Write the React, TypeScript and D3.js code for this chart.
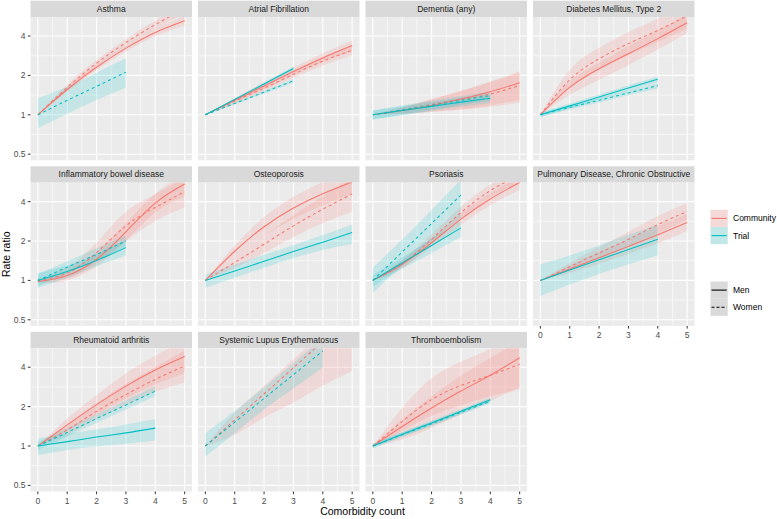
import React from "react";
import * as d3 from "d3";

type T = [number, number, number]; // [estimate, lower, upper] at comorbidity count 0..n

const panelNames = [
  "Asthma",
  "Atrial Fibrillation",
  "Dementia (any)",
  "Diabetes Mellitus, Type 2",
  "Inflammatory bowel disease",
  "Osteoporosis",
  "Psoriasis",
  "Pulmonary Disease, Chronic Obstructive",
  "Rheumatoid arthritis",
  "Systemic Lupus Erythematosus",
  "Thromboembolism",
];
const xTicks = [0, 1, 2, 3, 4, 5];
const xMinor = [0.5, 1.5, 2.5, 3.5, 4.5];
const yTicks = [0.5, 1, 2, 4];
const yTickLabels = ["0.5", "1", "2", "4"];
const yMinor = [0.7071, 1.4142, 2.8284];
const sourceNames = ["Community", "Trial"];
const sexNames = ["Men", "Women"];

// Asthma
const asthmaCM: T[] = [[1, 1, 1], [1.56, 1.5, 1.63], [2.31, 2.2, 2.43], [3.23, 3.05, 3.42], [4.26, 3.98, 4.56], [5.24, 4.82, 5.7]];
const asthmaCW: T[] = [[1, 1, 1], [1.62, 1.55, 1.7], [2.48, 2.35, 2.62], [3.56, 3.35, 3.78], [4.89, 4.55, 5.25], [6.45, 5.9, 7.0]];
const asthmaTW: T[] = [[1, 0.79, 1.34], [1.29, 1.02, 1.64], [1.65, 1.3, 2.1], [2.12, 1.62, 2.7]];
// Atrial fibrillation
const afCM: T[] = [[1, 1, 1], [1.29, 1.24, 1.34], [1.66, 1.57, 1.76], [2.14, 2.0, 2.3], [2.72, 2.52, 2.95], [3.38, 3.05, 3.7]];
const afCW: T[] = [[1, 1, 1], [1.27, 1.22, 1.32], [1.6, 1.52, 1.69], [2.04, 1.91, 2.18], [2.57, 2.38, 2.78], [3.12, 2.85, 3.42]];
const afTM: T[] = [[1, 1, 1], [1.31, 1.28, 1.34], [1.72, 1.67, 1.77], [2.26, 2.18, 2.34]];
const afTW: T[] = [[1, 1, 1], [1.22, 1.2, 1.24], [1.49, 1.45, 1.53], [1.82, 1.76, 1.88]];
// Dementia
const demCM: T[] = [[1, 1, 1], [1.08, 1.02, 1.13], [1.18, 1.05, 1.31], [1.32, 1.1, 1.52], [1.5, 1.18, 1.8], [1.76, 1.3, 2.15]];
const demCW: T[] = [[1, 1, 1], [1.09, 1.02, 1.14], [1.2, 1.06, 1.32], [1.31, 1.1, 1.52], [1.44, 1.15, 1.78], [1.68, 1.24, 2.1]];
const demTM: T[] = [[1, 0.92, 1.08], [1.08, 0.99, 1.16], [1.16, 1.07, 1.25], [1.25, 1.15, 1.35], [1.34, 1.23, 1.45]];
const demTW: T[] = [[1, 0.92, 1.08], [1.09, 1.0, 1.18], [1.18, 1.09, 1.28], [1.29, 1.19, 1.39], [1.4, 1.29, 1.51]];
// Diabetes
const diabCM: T[] = [[1, 1, 1], [1.62, 1.42, 1.8], [2.25, 1.85, 2.5], [2.93, 2.4, 3.35], [3.82, 3.15, 4.4], [5.06, 4.2, 5.85]];
const diabCW: T[] = [[1, 1, 1], [1.85, 1.6, 2.2], [2.68, 2.2, 3.25], [3.5, 2.85, 4.3], [4.42, 3.6, 5.45], [5.7, 4.55, 7.1]];
const diabTM: T[] = [[1, 0.96, 1.04], [1.17, 1.12, 1.22], [1.37, 1.31, 1.43], [1.6, 1.52, 1.68], [1.87, 1.78, 1.96]];
const diabTW: T[] = [[1, 0.96, 1.04], [1.14, 1.1, 1.18], [1.29, 1.24, 1.34], [1.47, 1.41, 1.53], [1.67, 1.59, 1.75]];
// Inflammatory bowel disease
const ibdCM: T[] = [[0.98, 0.95, 1.02], [1.09, 1.0, 1.18], [1.45, 1.28, 1.65], [2.35, 2.0, 2.75], [3.9, 3.3, 4.6], [5.45, 4.4, 6.6]];
const ibdCW: T[] = [[1, 0.97, 1.03], [1.14, 1.03, 1.26], [1.63, 1.35, 1.95], [2.61, 2.0, 3.35], [3.61, 2.85, 4.55], [4.77, 3.6, 6.2]];
const ibdTM: T[] = [[1, 0.88, 1.14], [1.17, 1.05, 1.3], [1.42, 1.28, 1.58], [1.78, 1.55, 2.05]];
const ibdTW: T[] = [[1, 0.9, 1.12], [1.26, 1.14, 1.4], [1.58, 1.42, 1.76], [2.0, 1.78, 2.2]];
// Osteoporosis
const osteoCM: T[] = [[1, 1, 1], [1.67, 1.5, 1.85], [2.57, 2.2, 3.05], [3.58, 2.95, 4.35], [4.6, 3.75, 5.65], [5.66, 4.6, 7.0]];
const osteoCW: T[] = [[1, 1, 1], [1.37, 1.25, 1.5], [1.89, 1.62, 2.2], [2.61, 2.15, 3.15], [3.5, 2.75, 4.4], [4.57, 3.35, 6.1]];
const osteoTM: T[] = [[1, 0.88, 1.11], [1.18, 1.05, 1.32], [1.4, 1.25, 1.57], [1.66, 1.48, 1.86], [1.96, 1.71, 2.22], [2.32, 1.9, 2.68]];
// Psoriasis
const psoCM: T[] = [[1, 1, 1], [1.33, 1.25, 1.42], [1.94, 1.8, 2.1], [2.94, 2.65, 3.25], [4.19, 3.75, 4.65], [5.6, 4.9, 6.3]];
const psoCW: T[] = [[1, 1, 1], [1.34, 1.25, 1.43], [2.06, 1.9, 2.25], [3.3, 2.95, 3.65], [4.85, 4.3, 5.4], [6.4, 5.6, 7.3]];
const psoTM: T[] = [[1, 0.9, 1.1], [1.36, 1.22, 1.5], [1.85, 1.62, 2.08], [2.52, 2.15, 2.9]];
const psoTW: T[] = [[1, 0.8, 1.25], [1.65, 1.3, 2.05], [2.72, 2.0, 3.45], [4.5, 3.0, 5.9]];
// COPD
const copdCM: T[] = [[1, 1, 1], [1.22, 1.14, 1.3], [1.49, 1.34, 1.65], [1.82, 1.6, 2.07], [2.23, 1.92, 2.6], [2.77, 2.38, 3.2]];
const copdCW: T[] = [[1, 1, 1], [1.27, 1.19, 1.36], [1.62, 1.46, 1.8], [2.06, 1.8, 2.35], [2.67, 2.3, 3.1], [3.36, 2.9, 3.9]];
const copdTM: T[] = [[1, 0.76, 1.33], [1.2, 0.93, 1.55], [1.44, 1.12, 1.86], [1.72, 1.33, 2.23], [2.06, 1.56, 2.69]];
// Rheumatoid arthritis
const raCM: T[] = [[1, 1, 1], [1.45, 1.3, 1.62], [2.07, 1.75, 2.45], [2.87, 2.3, 3.6], [3.81, 2.95, 4.9], [4.83, 3.6, 6.5]];
const raCW: T[] = [[1, 1, 1], [1.33, 1.22, 1.46], [1.84, 1.6, 2.12], [2.47, 2.05, 2.98], [3.23, 2.6, 4.0], [4.09, 3.05, 5.4]];
const raTM: T[] = [[1, 0.85, 1.14], [1.08, 0.93, 1.24], [1.17, 0.99, 1.34], [1.26, 1.04, 1.46], [1.37, 1.1, 1.6]];
const raTW: T[] = [[1, 0.93, 1.07], [1.27, 1.18, 1.37], [1.62, 1.5, 1.75], [2.06, 1.9, 2.24], [2.63, 2.4, 2.88]];
// Systemic lupus erythematosus
const sleCW: T[] = [[1, 1, 1], [1.58, 1.22, 1.8], [2.5, 1.65, 2.88], [3.96, 2.15, 4.6], [6.3, 2.9, 7.3], [9.9, 3.75, 11.5]];
const sleTW: T[] = [[1, 0.83, 1.25], [1.52, 1.25, 1.85], [2.31, 1.9, 2.8], [3.51, 2.75, 4.3], [5.33, 4.0, 6.8]];
// Thromboembolism
const thrCM: T[] = [[1, 1, 1], [1.41, 1.12, 1.6], [1.95, 1.37, 2.4], [2.63, 1.75, 3.45], [3.47, 2.2, 4.7], [4.72, 2.8, 6.4]];
const thrCW: T[] = [[1, 1, 1], [1.54, 1.3, 1.95], [2.26, 1.7, 3.3], [2.9, 2.05, 4.4], [3.47, 2.4, 5.5], [4.22, 2.7, 6.8]];
const thrTM: T[] = [[1, 0.96, 1.04], [1.23, 1.18, 1.28], [1.5, 1.44, 1.56], [1.84, 1.77, 1.91], [2.26, 2.17, 2.35]];
const thrTW: T[] = [[1, 0.96, 1.04], [1.22, 1.17, 1.27], [1.48, 1.42, 1.54], [1.81, 1.74, 1.88], [2.2, 2.11, 2.29]];

type Series = { panel: number; source: number; sex: number; data: T[] };
const seriesList: Series[] = [
  { panel: 0, source: 0, sex: 0, data: asthmaCM },
  { panel: 0, source: 0, sex: 1, data: asthmaCW },
  { panel: 0, source: 1, sex: 1, data: asthmaTW },
  { panel: 1, source: 0, sex: 0, data: afCM },
  { panel: 1, source: 0, sex: 1, data: afCW },
  { panel: 1, source: 1, sex: 0, data: afTM },
  { panel: 1, source: 1, sex: 1, data: afTW },
  { panel: 2, source: 0, sex: 0, data: demCM },
  { panel: 2, source: 0, sex: 1, data: demCW },
  { panel: 2, source: 1, sex: 0, data: demTM },
  { panel: 2, source: 1, sex: 1, data: demTW },
  { panel: 3, source: 0, sex: 0, data: diabCM },
  { panel: 3, source: 0, sex: 1, data: diabCW },
  { panel: 3, source: 1, sex: 0, data: diabTM },
  { panel: 3, source: 1, sex: 1, data: diabTW },
  { panel: 4, source: 0, sex: 0, data: ibdCM },
  { panel: 4, source: 0, sex: 1, data: ibdCW },
  { panel: 4, source: 1, sex: 0, data: ibdTM },
  { panel: 4, source: 1, sex: 1, data: ibdTW },
  { panel: 5, source: 0, sex: 0, data: osteoCM },
  { panel: 5, source: 0, sex: 1, data: osteoCW },
  { panel: 5, source: 1, sex: 0, data: osteoTM },
  { panel: 6, source: 0, sex: 0, data: psoCM },
  { panel: 6, source: 0, sex: 1, data: psoCW },
  { panel: 6, source: 1, sex: 0, data: psoTM },
  { panel: 6, source: 1, sex: 1, data: psoTW },
  { panel: 7, source: 0, sex: 0, data: copdCM },
  { panel: 7, source: 0, sex: 1, data: copdCW },
  { panel: 7, source: 1, sex: 0, data: copdTM },
  { panel: 8, source: 0, sex: 0, data: raCM },
  { panel: 8, source: 0, sex: 1, data: raCW },
  { panel: 8, source: 1, sex: 0, data: raTM },
  { panel: 8, source: 1, sex: 1, data: raTW },
  { panel: 9, source: 0, sex: 1, data: sleCW },
  { panel: 9, source: 1, sex: 1, data: sleTW },
  { panel: 10, source: 0, sex: 0, data: thrCM },
  { panel: 10, source: 0, sex: 1, data: thrCW },
  { panel: 10, source: 1, sex: 0, data: thrTM },
  { panel: 10, source: 1, sex: 1, data: thrTW },
];

const W = 777;
const H = 519;
const colX = [30.5, 198, 365.5, 533];
const panelW = 161.5;
const top0 = 0.7;
const stripH = 16.3;
const panelH = 143.3;
const rowPitch = 165.6;
const colors = ["#F8766D", "#00BFC4"];
const font = "'Liberation Sans', Arial, Helvetica, sans-serif";
const smallFont = 8.5;
const ribbonAlpha = 0.16;

const x = d3.scaleLinear().domain([-0.25, 5.25]).range([0, panelW]);
const y = d3.scaleLog().domain([0.449, 5.59]).range([panelH, 0]);

const lineGen = d3
  .line<T>()
  .x((_, i) => x(i))
  .y((d) => y(d[0]))
  .curve(d3.curveNatural);
const areaGen = d3
  .area<T>()
  .x((_, i) => x(i))
  .y0((d) => y(d[1]))
  .y1((d) => y(d[2]))
  .curve(d3.curveNatural);

function Panel({ idx }: { idx: number }) {
  const col = idx % 4;
  const row = Math.floor(idx / 4);
  const px = colX[col];
  const stripY = top0 + row * rowPitch;
  const py = stripY + stripH;
  const showX = row === 2 || idx === 7;
  const showY = col === 0;
  const ser = seriesList.filter((s) => s.panel === idx);
  return (
    <g>
      <rect x={px} y={stripY} width={panelW} height={stripH} fill="#D9D9D9" />
      <text
        x={px + panelW / 2}
        y={stripY + stripH / 2 + 3}
        textAnchor="middle"
        fontSize={smallFont}
        fill="#1A1A1A"
        fontFamily={font}
      >
        {panelNames[idx]}
      </text>
      <g transform={`translate(${px},${py})`}>
        <clipPath id={`clip${idx}`}>
          <rect x={0} y={0} width={panelW} height={panelH} />
        </clipPath>
        <rect x={0} y={0} width={panelW} height={panelH} fill="#EBEBEB" />
        {yMinor.map((v) => (
          <line key={"ym" + v} x1={0} x2={panelW} y1={y(v)} y2={y(v)} stroke="#FFFFFF" strokeWidth={0.55} />
        ))}
        {xMinor.map((v) => (
          <line key={"xm" + v} x1={x(v)} x2={x(v)} y1={0} y2={panelH} stroke="#FFFFFF" strokeWidth={0.55} />
        ))}
        {yTicks.map((v) => (
          <line key={"yM" + v} x1={0} x2={panelW} y1={y(v)} y2={y(v)} stroke="#FFFFFF" strokeWidth={1.1} />
        ))}
        {xTicks.map((v) => (
          <line key={"xM" + v} x1={x(v)} x2={x(v)} y1={0} y2={panelH} stroke="#FFFFFF" strokeWidth={1.1} />
        ))}
        <g clipPath={`url(#clip${idx})`}>
          {ser.map((s, i) => (
            <path key={"a" + i} d={areaGen(s.data) || ""} fill={colors[s.source]} fillOpacity={ribbonAlpha} stroke="none" />
          ))}
          {ser.map((s, i) => (
            <path
              key={"l" + i}
              d={lineGen(s.data) || ""}
              fill="none"
              stroke={colors[s.source]}
              strokeWidth={1.05}
              strokeDasharray={s.sex === 1 ? "3,3" : undefined}
            />
          ))}
        </g>
        {showY &&
          yTicks.map((v, i) => (
            <g key={"yt" + v}>
              <line x1={-2.7} x2={0} y1={y(v)} y2={y(v)} stroke="#333333" strokeWidth={1} />
              <text
                x={-5}
                y={y(v) + 3}
                textAnchor="end"
                fontSize={smallFont}
                fill="#4D4D4D"
                fontFamily={font}
              >
                {yTickLabels[i]}
              </text>
            </g>
          ))}
        {showX &&
          xTicks.map((v) => (
            <g key={"xt" + v}>
              <line x1={x(v)} x2={x(v)} y1={panelH} y2={panelH + 2.7} stroke="#333333" strokeWidth={1} />
              <text
                x={x(v)}
                y={panelH + 12.5}
                textAnchor="middle"
                fontSize={smallFont}
                fill="#4D4D4D"
                fontFamily={font}
              >
                {v}
              </text>
            </g>
          ))}
      </g>
    </g>
  );
}

function Legend() {
  const kx = 710.5;
  const ks = 17.2;
  const items1 = sourceNames.map((n, i) => ({ name: n, y: 209.8 + i * ks, i }));
  const items2 = sexNames.map((n, i) => ({ name: n, y: 281.5 + i * ks, i }));
  return (
    <g fontFamily={font} fontSize={smallFont} fill="#000000">
      {items1.map((it) => (
        <g key={it.name}>
          <rect x={kx} y={it.y} width={ks} height={ks} fill="#F2F2F2" />
          <rect x={kx} y={it.y} width={ks} height={ks} fill={colors[it.i]} fillOpacity={0.2} />
          <line x1={kx + 1} x2={kx + ks - 1} y1={it.y + ks / 2} y2={it.y + ks / 2} stroke={colors[it.i]} strokeWidth={1.1} />
          <text x={733} y={it.y + ks / 2 + 3}>
            {it.name}
          </text>
        </g>
      ))}
      {items2.map((it) => (
        <g key={it.name}>
          <rect x={kx} y={it.y} width={ks} height={ks} fill="#F2F2F2" />
          <rect x={kx} y={it.y} width={ks} height={ks} fill="#333333" fillOpacity={0.12} />
          <line
            x1={kx + 1}
            x2={kx + ks - 1}
            y1={it.y + ks / 2}
            y2={it.y + ks / 2}
            stroke="#000000"
            strokeWidth={1.1}
            strokeDasharray={it.i === 1 ? "3,2" : undefined}
          />
          <text x={733} y={it.y + ks / 2 + 3}>
            {it.name}
          </text>
        </g>
      ))}
    </g>
  );
}

export default function App() {
  const plotTop = top0 + stripH;
  const plotBottom = top0 + 2 * rowPitch + stripH + panelH;
  return (
    <svg
      width={W}
      height={H}
      viewBox={`0 0 ${W} ${H}`}
      style={{ position: "absolute", left: 0, top: 0, background: "#FFFFFF" }}
    >
      <rect x={0} y={0} width={W} height={H} fill="#FFFFFF" />
      {panelNames.map((_, i) => (
        <Panel key={i} idx={i} />
      ))}
      <text
        x={(colX[0] + colX[3] + panelW) / 2}
        y={515}
        textAnchor="middle"
        fontSize={10.5}
        fontFamily={font}
        fill="#000000"
      >
        Comorbidity count
      </text>
      <text
        transform={`translate(9.5,${(plotTop + plotBottom) / 2}) rotate(-90)`}
        textAnchor="middle"
        fontSize={10.5}
        fontFamily={font}
        fill="#000000"
      >
        Rate ratio
      </text>
      <Legend />
    </svg>
  );
}
